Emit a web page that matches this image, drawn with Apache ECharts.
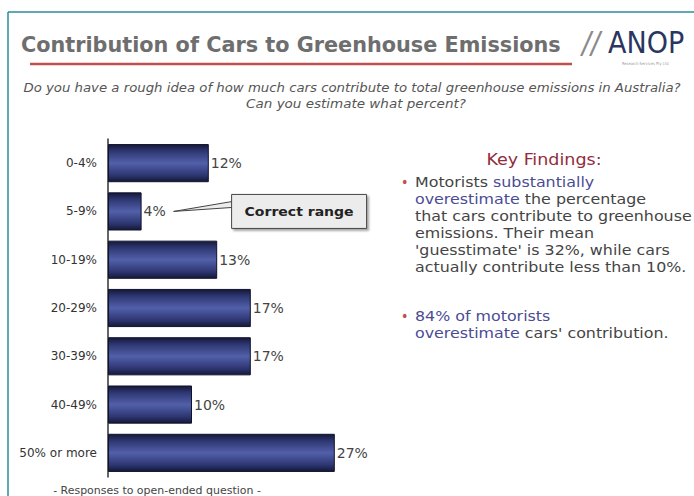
<!DOCTYPE html>
<html>
<head>
<meta charset="utf-8">
<script src="https://cdn.jsdelivr.net/npm/echarts@6/dist/echarts.min.js"></script>
<style>
html,body{margin:0;padding:0;background:#fff;overflow:hidden;}
#c{width:694px;height:496px;}
</style>
</head>
<body>
<div id="c"></div>
<script>
var categories = ['0-4%', '5-9%', '10-19%', '20-29%', '30-39%', '40-49%', '50% or more'];
var values = [12, 4, 13, 17, 17, 10, 27];
var valueLabels = ['12%', '4%', '13%', '17%', '17%', '10%', '27%'];
var titleText = 'Contribution of Cars to Greenhouse Emissions';
var subtitleLines = ['Do you have a rough idea of how much cars contribute to total greenhouse emissions in Australia?', 'Can you estimate what percent?'];
var calloutText = 'Correct range';
var calloutIndex = 1;
var footnote = '- Responses to open-ended question -';

var chart = echarts.init(document.getElementById('c'), null, {renderer: 'svg'});
var F = '"DejaVu Sans Condensed", "DejaVu Sans", sans-serif';
var FW = '"DejaVu Sans", Verdana, sans-serif';

var barGrad = new echarts.graphic.LinearGradient(0, 0, 0, 1, [
  {offset: 0, color: '#141838'},
  {offset: 0.18, color: '#2e3772'},
  {offset: 0.5, color: '#5260aa'},
  {offset: 0.82, color: '#2e3772'},
  {offset: 1, color: '#141838'}
]);

chart.setOption({
  animation: false,
  backgroundColor: '#ffffff',
  grid: {left: 108, top: 139, width: 336, height: 338, containLabel: false},
  xAxis: {type: 'value', min: 0, max: 40, show: false},
  yAxis: {
    type: 'category', data: categories, inverse: true,
    axisLine: {show: true, lineStyle: {color: '#333', width: 1.5}},
    axisTick: {show: false},
    axisLabel: {color: '#333', fontSize: 12, fontFamily: FW, margin: 11}
  },
  series: [{
    type: 'bar', data: values, barCategoryGap: '21%',
    itemStyle: {color: barGrad, borderColor: '#10132c', borderWidth: 1},
    label: {show: true, position: 'right', distance: 2, color: '#444', fontSize: 14, fontFamily: FW,
      formatter: function (p) { return valueLabels[p.dataIndex]; }}
  }]
});

var p = chart.convertToPixel({gridIndex: 0}, [values[calloutIndex], categories[calloutIndex]]);
var tipX = p[0] + 32, tipY = p[1];
var boxX = p[0] + 90, boxY = p[1] - 17, boxW = 135, boxH = 34;

function stext(x, y, sx, style) {
  return {type: 'group', x: x, y: y, scaleX: sx, children: [{type: 'text', x: 0, y: 0, style: style}]};
}
var rich = {
  b: {fill: '#444', font: '14px ' + F, lineHeight: 17},
  h: {fill: '#4b4b94', font: '14px ' + F, lineHeight: 17}
};

chart.setOption({
  graphic: [
    {type: 'line', shape: {x1: 8, y1: 12, x2: 694, y2: 12}, style: {stroke: '#2a8c9c', lineWidth: 1.5}, silent: true},
    {type: 'line', shape: {x1: 8, y1: 12, x2: 8, y2: 496}, style: {stroke: '#2a8c9c', lineWidth: 1.5}, silent: true},
    stext(21, 33, 1.05, {text: titleText, font: 'bold 22px ' + F, fill: '#6e6e6e'}),
    {type: 'line', shape: {x1: 30, y1: 64, x2: 572, y2: 64}, style: {stroke: '#c0504d', lineWidth: 2.5}},
    {type: 'text', x: 582, y: 27, style: {text: '//', font: 'italic 30px ' + F, fill: '#8a8a8a'}},
    {type: 'text', x: 608, y: 27, style: {text: 'ANOP', font: '30px ' + F, fill: '#2a3560'}},
    {type: 'text', x: 622, y: 61, style: {text: 'Research Services Pty Ltd', font: '4px ' + F, fill: '#999'}},
    stext(352, 88, 1.23, {text: subtitleLines[0], font: 'italic 12px ' + F, fill: '#555', align: 'center', verticalAlign: 'middle'}),
    stext(356, 104, 1.25, {text: subtitleLines[1], font: 'italic 12px ' + F, fill: '#555', align: 'center', verticalAlign: 'middle'}),
    {type: 'polygon', shape: {points: [[tipX, tipY], [boxX + 1, boxY + 7], [boxX + 1, boxY + 13]]}, style: {fill: '#ececec', stroke: '#444', lineWidth: 1}},
    {type: 'rect', shape: {x: boxX, y: boxY, width: boxW, height: boxH}, style: {fill: '#ececec', stroke: '#444', lineWidth: 1, shadowColor: 'rgba(0,0,0,0.35)', shadowOffsetX: 2, shadowOffsetY: 2, shadowBlur: 2}},
    stext(boxX + boxW / 2, boxY + boxH / 2, 1.2, {text: calloutText, font: 'bold 13px ' + F, fill: '#222', align: 'center', verticalAlign: 'middle'}),
    stext(544, 160, 1.3, {text: 'Key Findings:', font: '15px ' + F, fill: '#922c3c', align: 'center', verticalAlign: 'middle'}),
    {type: 'text', x: 401, y: 175, style: {text: '•', font: '14px ' + F, fill: '#c0504d'}},
    stext(415, 174, 1.26, {
      text: '{b|Motorists }{h|substantially}\n{h|overestimate}{b| the percentage}\n{b|that cars contribute to greenhouse}\n{b|emissions. Their mean}\n{b|\'guesstimate\' is 32%, while cars}\n{b|actually contribute less than 10%.}',
      font: '14px ' + F, rich: rich
    }),
    {type: 'text', x: 401, y: 309, style: {text: '•', font: '14px ' + F, fill: '#c0504d'}},
    stext(415, 308, 1.26, {
      text: '{h|84% of motorists}\n{h|overestimate}{b| cars\' contribution.}',
      font: '14px ' + F, rich: rich
    }),
    stext(157, 491, 1.22, {text: footnote, font: '10px ' + F, fill: '#444', align: 'center', verticalAlign: 'middle'})
  ]
});
</script>
</body>
</html>
